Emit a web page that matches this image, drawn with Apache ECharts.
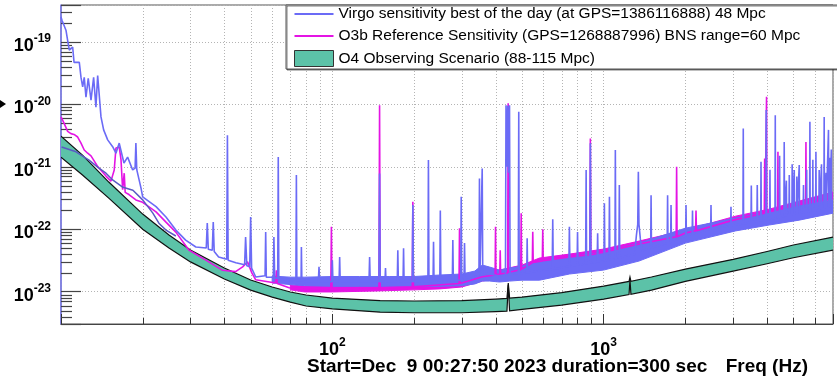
<!DOCTYPE html>
<html><head><meta charset="utf-8">
<script src="https://cdn.jsdelivr.net/npm/echarts@6/dist/echarts.min.js"></script>
<style>html,body{margin:0;padding:0;background:#fff;}#c{width:837px;height:379px;}</style>
</head><body><div id="c"></div>
<script>
const FONT = 'Liberation Sans, Arial, Helvetica, sans-serif';
const VIRGO_NAME = 'Virgo sensitivity best of the day (at GPS=1386116888) 48 Mpc';
const O3B_NAME = 'O3b Reference Sensitivity (GPS=1268887996) BNS range=60 Mpc';
const O4_NAME = 'O4 Observing Scenario (88-115 Mpc)';
// the log axis works in units of 1e-24 (ECharts rounds tiny extents to 0)
const UNIT_EXP = 24, UNIT = 1e24;
const X_MIN = 10, X_MAX = 7000, Y_MIN = 3.04e-24, Y_MAX = 3.9e-19;

const xMinorTicks = [20,30,40,50,60,70,80,90,200,300,400,500,600,700,800,900,2000,3000,4000,5000,6000];
const yMinorTicks = [4e-24,5e-24,6e-24,7e-24,8e-24,9e-24,
  2e-23,3e-23,4e-23,5e-23,6e-23,7e-23,8e-23,9e-23,
  2e-22,3e-22,4e-22,5e-22,6e-22,7e-22,8e-22,9e-22,
  2e-21,3e-21,4e-21,5e-21,6e-21,7e-21,8e-21,9e-21,
  2e-20,3e-20,4e-20,5e-20,6e-20,7e-20,8e-20,9e-20,
  2e-19,3e-19];

// O4 observing scenario band
const o4Freq = [10,12,15,20,25,30,40,50,60,70,80,100,150,200,300,400,440,445,450,500,700,1000,1240,1250,1260,1500,2000,3000,4000,5000,7000];
const o4High = [3.1e-21,1.54e-21,5.7e-22,1.75e-22,8.1e-23,4.65e-23,2.4e-23,1.54e-23,1.19e-23,9.9e-24,8.85e-24,7.9e-24,7.2e-24,7.1e-24,7.2e-24,7.6e-24,7.8e-24,1.38e-23,7.9e-24,8.2e-24,9.7e-24,1.23e-23,1.46e-23,1.72e-23,1.47e-23,1.72e-23,2.3e-23,3.3e-23,4.4e-23,5.6e-23,7.5e-23];
const o4Low = [1.43e-21,7.4e-22,3.15e-22,1.0e-22,5.0e-23,3.0e-23,1.6e-23,1.06e-23,8.2e-24,6.8e-24,5.9e-24,5.3e-24,4.7e-24,4.6e-24,4.6e-24,4.8e-24,4.9e-24,1.29e-23,4.95e-24,5.2e-24,6.1e-24,7.6e-24,9.0e-24,1.55e-23,9.1e-24,1.06e-23,1.46e-23,2.14e-23,2.8e-23,3.5e-23,4.65e-23];

// Virgo best of the day
const virgo = [
[10.0,2.5e-19],[10.09,2.2e-19],[10.43,1.54e-19],[10.58,1.06e-19],[10.73,7.4e-20],[11.04,8.3e-20],[11.17,4.7e-20],[11.68,4.7e-20],[11.85,2.7e-20],[12.02,1.9e-20],[12.18,2.7e-20],[12.36,1.3e-20],[12.6,2.6e-20],[12.9,1.17e-20],[13.19,2.7e-20],[13.45,9.0e-21],[13.65,2.9e-20],[14.04,6.3e-21],[14.36,3.9e-21],[14.86,2.7e-21],[15.5,2.1e-21],[15.94,1.65e-21],[16.39,2.4e-21],[17.06,1.15e-21],[17.6,1.43e-21],[18.37,8.9e-22],[18.75,9.5e-22],[18.88,2.4e-21],[19.02,9.0e-22],[19.71,4.6e-22],[20.0,3.3e-22],[22.4,2.3e-22],[24.37,1.57e-22],[26.5,9.7e-23],[28.8,6.7e-23],[31.4,5.2e-23],[34.3,5.0e-23],[34.6,1.26e-22],[34.9,4.8e-23],[36.1,4.6e-23],[36.4,1.3e-22],[36.7,4.4e-23],[38.1,3.6e-23],[40.8,3.3e-23],[41.05,3.2e-21],[41.3,3.2e-23],[44.1,2.9e-23],[47.5,2.7e-23],[47.9,7.5e-23],[48.4,2.6e-23],[49.6,2.5e-23],[50.0,1.57e-22],[50.4,2.4e-23],[52.2,1.72e-23],[56.5,1.8e-23],[56.8,9.0e-23],[57.1,1.7e-23],[60.6,1.7e-23],[60.9,7.5e-23],[61.3,1.65e-23],[62.9,1.65e-23],[63.2,1.43e-21],[63.5,1.6e-23],[69.0,1.48e-23],[73.4,1.5e-23],[73.7,7.4e-22],[74.0,1.5e-23],[76.7,1.5e-23],[76.9,5.2e-23],[77.2,1.5e-23],[80,1.45e-23],
[88.8,1.45e-23],[89.3,2.5e-23],[89.8,1.45e-23],[99.5,1.45e-23],[100,3.2e-23],[100.5,1.45e-23],[105.9,1.45e-23],[106.4,3.6e-23],[106.9,1.45e-23],[136.5,1.45e-23],[137.2,3.6e-23],[137.9,1.45e-23],[148.5,1.45e-23],[149.3,7.8e-22],[150.1,1.45e-23],[156.3,1.45e-23],[157,2.4e-23],[157.7,1.45e-23],[173.5,1.45e-23],[174.3,4.6e-23],[175.1,1.45e-23],[182.2,1.45e-23],[183,4.95e-23],[183.8,1.45e-23],[197,1.45e-23],[198,2.44e-22],[199,1.45e-23],[225,1.46e-23],[226,1.28e-21],[227,1.46e-23],[235,1.47e-23],[236,6.3e-23],[237,1.47e-23],[248.9,1.48e-23],[250,2.0e-22],[251.1,1.48e-23],[276.8,1.5e-23],[278,6.7e-23],[279.2,1.5e-23],[297.2,1.53e-23],[298.5,3.3e-22],[299.8,1.53e-23],[305.6,1.54e-23],[307,6.0e-23],[308.4,1.54e-23],[320,1.6e-23],[347,1.85e-23],[348.5,6.5e-22],[350,1.9e-23],[355.1,1.95e-23],[356.7,9.4e-22],[358.3,2.0e-23],[380,1.92e-23],[413,1.78e-23],[434.5,1.85e-23],[436.5,9.7e-21],[440,1.0e-21],[443,9.5e-21],[446,8.0e-22],[449.7,9.7e-21],[452,1.9e-23],[484.5,1.95e-23],[486.4,7.6e-21],[488.3,1.95e-23],[520.5,2.0e-23],[522.4,7.2e-23],[524.4,2.0e-23],[580,2.18e-23],[646,2.3e-23],[649,1.44e-22],[652,2.3e-23],[744,2.55e-23],[747.5,1.1e-22],[751,2.55e-23],[798,2.65e-23],[801,9.0e-23],[804,2.65e-23],[858,2.8e-23],[861.6,8.9e-22],[865,2.8e-23],[889,2.85e-23],[893,2.39e-21],[897,2.85e-23],[946,3.0e-23],[950,8.6e-23],[954,3.0e-23],[1002,3.1e-23],[1006,2.6e-22],[1010,3.1e-23],[1046,3.2e-23],[1050,3.3e-22],[1054,3.25e-23],[1100,3.35e-23],[1104,1.85e-21],[1108,3.4e-23],[1138,3.5e-23],[1142,5.1e-22],[1146,3.5e-23],[1300,4.0e-23],[1320,8.0e-23],[1335,1.2e-22],[1342,8.3e-22],[1349,1.2e-22],[1365,7.0e-23],[1385,4.5e-23],[1490,5.0e-23],[1495,3.5e-22],[1500,5.0e-23],[1714,6.0e-23],[1720,3.5e-22],[1726,6.0e-23],[1765,6.2e-23],[1771,2.44e-22],[1777,6.3e-23],[2005,7.8e-23],[2011,2.44e-22],[2017,7.9e-23],[2119,8.5e-23],[2125,2.0e-22],[2131,8.5e-23],[2480,1.0e-22],[2486,2.44e-22],[2492,1.0e-22],[2938,1.15e-22],[2945,2.3e-22],[2952,1.15e-22],[3260,1.22e-22],[3269,4.1e-21],[3278,1.22e-22],[3490,1.3e-22],[3500,5.0e-22],[3510,1.3e-22],[3670,1.35e-22],[3681,5.1e-22],[3692,1.35e-22],[3790,1.38e-22],[3800,1.2e-21],[3810,1.38e-22],[3960,1.42e-22],[3972,8.1e-21],[3984,1.42e-22],[4090,1.45e-22],[4100,9.0e-22],[4110,1.45e-22],[4278,1.5e-22],[4289,6.7e-21],[4300,1.5e-22],[4440,1.55e-22],[4450,1.5e-21],[4460,1.55e-22],[4615,1.6e-22],[4627,2.5e-21],[4639,1.6e-22],[4700,1.65e-22],[4712,6.0e-22],[4724,1.65e-22],[4818,1.7e-22],[4830,7.4e-22],[4842,1.7e-22],[4940,1.72e-22],[4950,1.1e-21],[4960,1.72e-22],[5025,1.75e-22],[5038,8.9e-22],[5051,1.75e-22],[5140,1.78e-22],[5150,7.0e-22],[5160,1.78e-22],[5243,1.8e-22],[5256,1.07e-21],[5269,1.8e-22],[5436,1.85e-22],[5450,5.1e-22],[5464,1.85e-22],[5590,1.9e-22],[5600,9.0e-22],[5610,1.9e-22],[5740,1.95e-22],[5754,5.25e-21],[5768,1.95e-22],[5890,1.98e-22],[5900,1.3e-21],[5910,1.98e-22],[6041,2.0e-22],[6056,1.74e-21],[6071,2.0e-22],[6210,2.05e-22],[6226,8.9e-22],[6242,2.05e-22],[6340,2.1e-22],[6350,1.1e-21],[6360,2.1e-22],[6480,2.15e-22],[6495,6.3e-21],[6510,2.15e-22],[6590,2.17e-22],[6600,8.0e-22],[6610,2.17e-22],[6720,2.2e-22],[6737,3.9e-21],[6754,2.2e-22],[6790,2.22e-22],[6800,1.4e-21],[6810,2.22e-22],[6883,2.25e-22],[6900,1.9e-21],[6917,2.25e-22],[7000,2.3e-22]
];
// Virgo trace running along the band at low frequency
const virgoInBand = [[10.05,2.07e-21],[11.36,1.74e-21],[12.68,1.28e-21],[13.8,9.5e-22],[14.65,7.9e-22],[15.54,6.1e-22],[16.92,4.7e-22],[18.41,4.2e-22],[20.04,2.93e-22],[21.8,1.81e-22],[22.95,1.25e-22],[24.36,9.7e-23],[26.5,7.8e-23]];
// Virgo noise envelope (thickness of the fuzzy trace)
const virgoEnvFreq = [60,70,79,100,126,162,200,249,300,335,357,380,413,450,500,580,748,1000,1350,2000,3060,4075,5256,7000];
const virgoEnvHigh = [1.78e-23,1.71e-23,1.71e-23,1.75e-23,1.75e-23,1.75e-23,1.75e-23,1.85e-23,1.92e-23,2.14e-23,2.67e-23,2.48e-23,2.22e-23,2.39e-23,2.58e-23,3.1e-23,3.59e-23,4.32e-23,6.0e-23,1.04e-22,1.51e-22,1.88e-22,2.35e-22,2.93e-22];
const virgoEnvLow = [1.38e-23,1.3e-23,1.25e-23,1.22e-23,1.22e-23,1.22e-23,1.22e-23,1.22e-23,1.25e-23,1.33e-23,1.48e-23,1.48e-23,1.43e-23,1.48e-23,1.53e-23,1.53e-23,1.92e-23,2.22e-23,3.1e-23,6.0e-23,9.4e-23,1.17e-22,1.4e-22,1.81e-22];

// O3b reference
const o3b = [
[10.0,6.3e-21],[10.09,6.0e-21],[10.26,5.0e-21],[10.58,3.7e-21],[10.88,3.4e-21],[11.17,3.3e-21],[11.52,3.0e-21],[11.85,2.4e-21],[12.18,1.86e-21],[12.54,1.65e-21],[12.9,1.5e-21],[13.68,1.0e-21],[14.65,7.1e-22],[15.28,5.9e-22],[15.5,5.5e-22],[15.71,8.9e-22],[15.94,2.0e-21],[16.39,2.07e-21],[16.64,1.3e-21],[16.87,4.3e-22],[17.1,7.9e-22],[17.24,3.9e-22],[17.8,3.6e-22],[18.88,2.95e-22],[20.0,2.7e-22],[22.4,1.9e-22],[24.37,1.3e-22],[26.5,9.0e-23],[29.6,4.65e-23],[34.2,3.2e-23],[39.4,2.2e-23],[44,2.1e-23],[46.7,2.5e-23],[48.7,3.0e-23],[50.5,2.0e-23],[52.2,1.55e-23],[60.2,1.4e-23],[61.8,1.4e-23],[62.2,2.2e-23],[62.6,1.35e-23],[69.3,1.16e-23],[79.8,1.1e-23],[98.7,1.13e-23],[99.2,1.1e-22],[99.7,1.13e-23],[148.5,1.15e-23],[149.3,9.7e-21],[150.1,1.15e-23],[197,1.2e-23],[198,2.75e-22],[199,1.2e-23],[293,1.35e-23],[294.2,1.04e-22],[295.4,1.35e-23],[357,1.74e-23],[398,1.85e-23],[399.4,1.1e-22],[400.8,1.88e-23],[414.2,1.92e-23],[415.6,4.6e-23],[417,1.92e-23],[442.7,2.0e-23],[444.6,1.04e-20],[446.5,2.05e-23],[494.7,2.25e-23],[496.6,1.81e-22],[498.5,2.3e-23],[545.7,2.9e-23],[547.8,9.1e-23],[549.9,2.95e-23],[594,3.1e-23],[596.3,1.0e-22],[598.6,3.15e-23],[750,3.6e-23],[889,3.9e-23],[893,2.84e-21],[897,3.9e-23],[1000,4.3e-23],[1350,5.8e-23],[1850,7.6e-23],[1857,1.0e-21],[1864,7.6e-23],[2000,8.7e-23],[2181,9.5e-23],[2189,2.0e-22],[2197,9.5e-23],[3000,1.4e-22],[3908,1.8e-22],[3920,1.36e-21],[3932,1.8e-22],[3971,1.85e-22],[3983,1.32e-20],[3995,1.85e-22],[4374,2.05e-22],[4387,1.74e-21],[4400,2.05e-22],[5550,2.65e-22],[5564,2.5e-21],[5578,2.65e-22],[7000,3.5e-22]
];
const o3bEnvFreq = [70,79,100,149,200,249,300,357,413,500,580,748,1000,1350,2000,3060,4075,5256,7000];
const o3bEnvHigh = [1.28e-23,1.23e-23,1.28e-23,1.28e-23,1.38e-23,1.43e-23,1.53e-23,2.07e-23,2.22e-23,2.67e-23,3.46e-23,4.0e-23,4.82e-23,6.47e-23,9.7e-23,1.62e-22,2.1e-22,2.83e-22,3.94e-22];
const o3bEnvLow = [1.07e-23,9.9e-24,9.9e-24,1.03e-23,1.07e-23,1.11e-23,1.19e-23,1.48e-23,1.65e-23,2.0e-23,2.77e-23,3.21e-23,3.87e-23,5.19e-23,7.8e-23,1.3e-22,1.69e-22,2.26e-22,3.04e-22];

const TEAL = '#5cc2a8', BLUE = '#6b6bf6', MAGENTA = '#e414e4';
const u = v => v * UNIT;
const pairs = arr => arr.map(p => [p[0], u(p[1])]);

function bandRenderer(freq, hi, lo, fill, stroke, strokeW) {
  return function (params, api) {
    const up = freq.map((f, i) => api.coord([f, u(hi[i])]));
    const dn = freq.map((f, i) => api.coord([f, u(lo[i])]));
    const children = [{ type: 'polygon', shape: { points: up.concat(dn.slice().reverse()) },
      style: { fill: fill, stroke: stroke ? 'none' : fill, lineWidth: 1 } }];
    if (stroke) {
      children.push({ type: 'polyline', shape: { points: up }, style: { stroke: stroke, lineWidth: strokeW, fill: 'none' } });
      children.push({ type: 'polyline', shape: { points: dn }, style: { stroke: stroke, lineWidth: strokeW, fill: 'none' } });
    }
    return { type: 'group', children: children };
  };
}
function xLabel(value) {
  const l = Math.log10(value);
  const e = Math.round(l);
  if (Math.abs(l - e) > 1e-6 || e < 2) return '';
  return '{b|10}{s|' + e + '}';
}
function yLabel(value) {
  const l = Math.log10(value);
  const e = Math.round(l);
  if (Math.abs(l - e) > 1e-6) return '';
  return '{b|10}{s|' + (e - UNIT_EXP) + '}';
}
const rich = {
  b: { fontSize: 18, fontWeight: 'bold', fontFamily: FONT, color: '#000' },
  s: { fontSize: 12, fontWeight: 'bold', fontFamily: FONT, color: '#000', padding: [0, 0, 14, 0] }
};
const LINE_ICON = 'path://M0,0H39V2H0Z';

const chart = echarts.init(document.getElementById('c'), null, { renderer: 'canvas' });
chart.setOption({
  animation: false,
  backgroundColor: '#fff',
  grid: { left: 61, right: 4, top: 5, bottom: 55, show: true, borderColor: '#555', borderWidth: 1, backgroundColor: 'transparent' },
  title: [
    { text: 'Start=Dec  9 00:27:50 2023 duration=300 sec', left: 307, top: 357, padding: 0,
      textStyle: { fontSize: 19, fontWeight: 'bold', fontFamily: FONT, color: '#000' } },
    { text: 'Freq (Hz)', right: 29, top: 357, padding: 0,
      textStyle: { fontSize: 19, fontWeight: 'bold', fontFamily: FONT, color: '#000' } }
  ],
  graphic: [{ type: 'polygon', shape: { points: [[0, 100], [6, 104], [0, 108]] }, style: { fill: '#000' } }],
  legend: {
    data: [{ name: VIRGO_NAME, icon: LINE_ICON, itemStyle: { color: BLUE } },
      { name: O3B_NAME, icon: LINE_ICON, itemStyle: { color: MAGENTA } },
      { name: O4_NAME, icon: 'rect', itemStyle: { color: TEAL, borderColor: '#333', borderWidth: 1 } }],
    orient: 'vertical', left: 286, top: 5, itemWidth: 39, itemHeight: 16, itemGap: 6,
    padding: [1, 39, 2, 8], backgroundColor: '#fff', borderColor: '#555', borderWidth: 1,
    shadowColor: 'rgba(0,0,0,0.5)', shadowOffsetX: 1, shadowOffsetY: 1, shadowBlur: 0,
    textStyle: { fontSize: 15.5, color: '#000', fontFamily: FONT }, selectedMode: false
  },
  xAxis: {
    type: 'log', logBase: 10, min: X_MIN, max: X_MAX,
    axisLine: { lineStyle: { color: '#444', width: 1 } },
    axisTick: { inside: true, length: 10, lineStyle: { color: '#333' } },
    axisLabel: { margin: 13, formatter: xLabel, rich: rich },
    splitLine: { show: true, lineStyle: { color: '#b4b4b4', width: 1, type: [1, 2] } }
  },
  yAxis: {
    type: 'log', logBase: 10, min: u(Y_MIN), max: u(Y_MAX),
    axisLine: { show: true, lineStyle: { color: '#7878f2', width: 1.5 } },
    axisTick: { inside: true, length: 20, lineStyle: { color: '#444', width: 1.2 } },
    axisLabel: { margin: 10, padding: [8, 0, 0, 0], formatter: yLabel, rich: rich },
    splitLine: { show: true, lineStyle: { color: '#b4b4b4', width: 1, type: [1, 2] } }
  },
  series: [
    { type: 'custom', name: 'xMinor', silent: true, clip: true, data: xMinorTicks.map(v => [v, u(Y_MIN)]),
      encode: { x: 0, y: 1 },
      renderItem: function (params, api) {
        const v = api.value(0);
        const b = api.coord([v, u(Y_MIN)]);
        const t = api.coord([v, u(Y_MAX)]);
        const x = Math.round(b[0]) + 0.5;
        return { type: 'group', children: [
          { type: 'line', shape: { x1: x, y1: t[1], x2: x, y2: b[1] }, style: { stroke: '#b4b4b4', lineWidth: 1, lineDash: [1, 2] } },
          { type: 'line', shape: { x1: x, y1: b[1], x2: x, y2: b[1] - 6 }, style: { stroke: '#333', lineWidth: 1 } }
        ] };
      } },
    { type: 'custom', name: 'yMinor', silent: true, clip: false, data: yMinorTicks.map(v => [X_MIN, u(v)]),
      encode: { x: 0, y: 1 },
      renderItem: function (params, api) {
        const p = api.coord([X_MIN, api.value(1)]);
        const y = Math.round(p[1]) + 0.5;
        return { type: 'line', shape: { x1: p[0], y1: y, x2: p[0] + 11, y2: y }, style: { stroke: '#444', lineWidth: 1.2 } };
      } },
    { type: 'custom', name: O4_NAME, clip: true, data: [[o4Freq[0], u(o4High[0])]], encode: { x: 0, y: 1 },
      itemStyle: { color: TEAL },
      renderItem: bandRenderer(o4Freq, o4High, o4Low, TEAL, '#111', 1.2) },
    { type: 'custom', name: 'o3bNoise', silent: true, clip: true, data: [[o3bEnvFreq[0], u(o3bEnvHigh[0])]], encode: { x: 0, y: 1 },
      renderItem: bandRenderer(o3bEnvFreq, o3bEnvHigh, o3bEnvLow, MAGENTA, null, 0) },
    { type: 'line', name: O3B_NAME, data: pairs(o3b), symbol: 'none', showSymbol: false, clip: true,
      lineStyle: { color: MAGENTA, width: 1.6 }, itemStyle: { color: MAGENTA } },
    { type: 'custom', name: 'virgoNoise', silent: true, clip: true, data: [[virgoEnvFreq[0], u(virgoEnvHigh[0])]], encode: { x: 0, y: 1 },
      renderItem: bandRenderer(virgoEnvFreq, virgoEnvHigh, virgoEnvLow, BLUE, null, 0) },
    { type: 'line', name: VIRGO_NAME, data: pairs(virgo), symbol: 'none', showSymbol: false, clip: true,
      lineStyle: { color: BLUE, width: 1.6 }, itemStyle: { color: BLUE } },
    { type: 'line', name: 'virgoInBand', data: pairs(virgoInBand), symbol: 'none', showSymbol: false, clip: true,
      lineStyle: { color: '#5a5ac4', width: 1.5 }, itemStyle: { color: '#5a5ac4' } }
  ]
});
</script></body></html>
